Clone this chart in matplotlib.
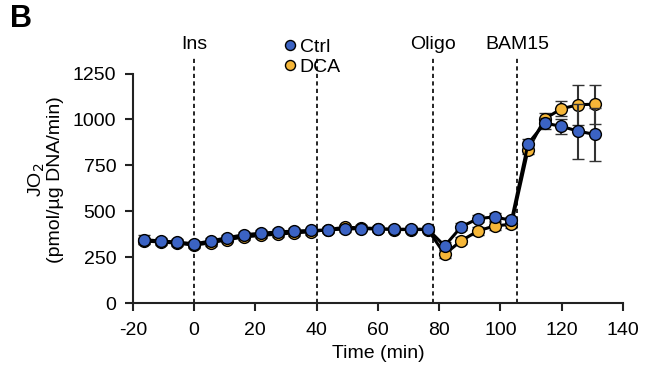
import matplotlib.pyplot as plt

plt.rcParams['font.family'] = ['Liberation Sans', 'DejaVu Sans']
plt.rcParams['axes.unicode_minus'] = False

time = [-16.4, -10.9, -5.5, 0, 5.5, 10.9, 16.4, 21.8, 27.3, 32.7, 38.2, 43.6, 49.1, 54.5,
        60.0, 65.4, 70.9, 76.3, 81.8, 87.2, 92.7, 98.1, 103.6, 109.0, 114.5, 119.9, 125.4, 130.8]
ctrl = [345, 338, 332, 322, 338, 356, 372, 380, 387, 392, 395, 398, 403, 405,
        403, 402, 402, 402, 311, 415, 460, 469, 450, 868, 980, 962, 936, 918]
ctrl_err = [25, 15, 15, 15, 15, 15, 15, 15, 15, 15, 15, 15, 15, 15,
            15, 15, 15, 15, 20, 20, 20, 20, 20, 25, 30, 40, 150, 145]
dca = [338, 332, 326, 315, 328, 345, 360, 368, 375, 382, 388, 400, 412, 410,
       405, 400, 400, 400, 266, 339, 393, 420, 429, 835, 1004, 1058, 1080, 1083]
dca_err = [15, 15, 15, 15, 15, 15, 15, 15, 15, 15, 15, 15, 15, 15,
           15, 15, 15, 15, 20, 20, 20, 20, 20, 25, 30, 40, 110, 107]

injections = [0, 40, 78, 105.5]
inj_labels = ['Ins', '', 'Oligo', 'BAM15']

blue = '#3b63c4'
orange = '#f5b638'

fig = plt.figure(figsize=(6.51, 3.75), dpi=100)
ax = fig.add_axes([0.204, 0.192, 0.753, 0.656])

for x, lab in zip(injections, inj_labels):
    ax.axvline(x, color='black', ls=(0, (2.5, 2)), lw=1.2, zorder=1)
    if lab:
        ax.text(x, 1.05, lab, transform=ax.get_xaxis_transform(), ha='center', va='center',
                fontsize=14)

ax.errorbar(time, dca, yerr=dca_err, color='black', lw=2.2, marker='o', ms=8.5,
            mfc=orange, mec='black', mew=1, ecolor='#333333', elinewidth=1.5, capsize=4,
            capthick=1.5, label='DCA', zorder=3)
ax.errorbar(time, ctrl, yerr=ctrl_err, color='black', lw=2.2, marker='o', ms=8.5,
            mfc=blue, mec='black', mew=1, ecolor='#333333', elinewidth=1.5, capsize=4,
            capthick=1.5, label='Ctrl', zorder=4)

h, l = ax.get_legend_handles_labels()
leg = ax.legend([h[1][0], h[0][0]], ['Ctrl', 'DCA'], loc='center left',
                bbox_to_anchor=(0.295, 1.0), frameon=False, fontsize=14,
                handlelength=0.5, handletextpad=0.25, labelspacing=0.15, borderaxespad=0,
                markerscale=0.85)
for hd in leg.legend_handles:
    hd.set_linestyle('none')

ax.set_xlim(-20, 140)
ax.set_ylim(0, 1340)
ax.set_xticks(range(-20, 141, 20))
ax.set_yticks(range(0, 1251, 250))
ax.spines['left'].set_bounds(0, 1250)
ax.spines['top'].set_visible(False)
ax.spines['right'].set_visible(False)
for s in ['left', 'bottom']:
    ax.spines[s].set_linewidth(1.5)
    ax.spines[s].set_color('#222222')
ax.tick_params(width=1.5, length=6, labelsize=14, color='#222222')
ax.tick_params(axis='x', pad=8)
ax.tick_params(axis='y', pad=6)
ax.set_xlabel('Time (min)', fontsize=14, labelpad=4)
ax.set_ylabel('JO$_2$\n(pmol/µg DNA/min)', fontsize=14, labelpad=6, linespacing=1.0)

fig.text(0.015, 0.95, 'B', fontsize=22, fontweight='bold', va='center')

fig.savefig('out.png', dpi=100)
